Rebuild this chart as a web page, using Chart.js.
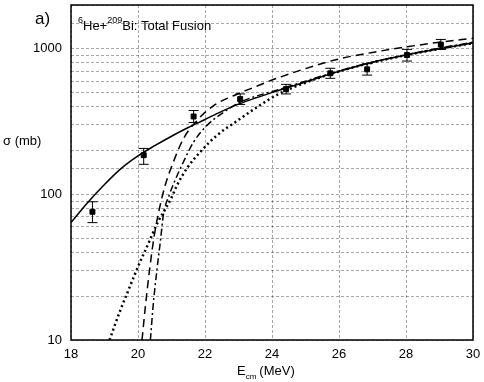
<!DOCTYPE html>
<html>
<head>
<meta charset="utf-8">
<script src="https://cdn.jsdelivr.net/npm/chart.js@4"></script>
<style>
html, body { margin: 0; padding: 0; background: #fff; }
</style>
</head>
<body>
<canvas id="myChart" width="484" height="382"></canvas>
<script>
// measured points (E_cm in MeV, sigma in mb)
const expE = [18.64, 20.17, 21.66, 23.05, 24.42, 25.74, 26.84, 28.03, 29.04];
const expS = [76, 186, 343, 452, 529, 679, 723, 906, 1069];
const expLo = [64, 161, 312, 415, 490, 627, 660, 824, 990];
const expHi = [89, 207, 377, 490, 570, 735, 790, 991, 1160];

// calculations
const solidE = [18, 18.5, 19, 19.5, 20, 20.5, 21, 21.5, 22, 22.5, 23, 23.5, 24, 25, 26, 27, 28, 29, 30];
const solidS = [64, 88, 117, 151, 184, 216, 251, 288, 327, 372, 417, 459, 501, 592, 700, 810, 905, 1000, 1096];

const dashE = [20.12, 20.22, 20.35, 20.49, 20.64, 20.81, 21.06, 21.36, 21.76, 22.26, 22.85, 23.45, 24.15, 24.94, 25.94, 27, 28, 29, 30];
const dashS = [10, 17, 31, 53, 80, 115, 168, 242, 322, 408, 476, 543, 628, 724, 846, 945, 1030, 1110, 1180];

const dashDotE = [20.37, 20.45, 20.57, 20.67, 20.76, 20.94, 21.06, 21.36, 21.66, 22.06, 22.56, 23.05, 24.25, 25, 26, 27, 28, 29, 30];
const dashDotS = [10, 17, 31, 48, 73, 100, 118, 168, 229, 298, 367, 430, 529, 600, 705, 810, 910, 1010, 1110];

const dotE = [19.15, 19.29, 19.49, 19.69, 19.89, 20.1, 20.31, 20.6, 20.84, 21.0, 21.16, 21.46, 21.86, 22.36, 22.96, 23.55, 24.2, 25, 26, 27, 28, 29, 30];
const dotS = [10, 12.3, 16.4, 21.3, 27.7, 36, 46, 65, 81, 95, 115, 151, 196, 255, 320, 397, 490, 585, 700, 805, 905, 1000, 1095];

const xTicks = [18, 20, 22, 24, 26, 28, 30];
const yLabels = [10, 100, 1000];

const pts = (xs, ys) => xs.map((x, i) => ({ x: x, y: ys[i] }));
const FONT = '"Liberation Sans", Arial, sans-serif';

const curve = (xs, ys, dash, width) => ({
    type: 'line',
    data: pts(xs, ys),
    borderColor: '#000',
    borderWidth: width,
    borderDash: dash,
    pointRadius: 0,
    fill: false,
    cubicInterpolationMode: 'monotone'
});

const extras = {
    id: 'extras',
    afterDatasetsDraw(chart) {
        const ctx = chart.ctx;
        const xs = chart.scales.x, ys = chart.scales.y;
        const a = chart.chartArea;
        ctx.save();
        // error bars
        ctx.strokeStyle = '#000';
        ctx.lineWidth = 1;
        expE.forEach((e, i) => {
            const px = xs.getPixelForValue(e);
            const y1 = ys.getPixelForValue(expLo[i]);
            const y2 = ys.getPixelForValue(expHi[i]);
            ctx.beginPath();
            ctx.moveTo(px, y1); ctx.lineTo(px, y2);
            ctx.moveTo(px - 5, y1); ctx.lineTo(px + 5, y1);
            ctx.moveTo(px - 5, y2); ctx.lineTo(px + 5, y2);
            ctx.stroke();
        });
        // frame
        ctx.lineWidth = 1.5;
        ctx.strokeRect(a.left, a.top, a.right - a.left, a.bottom - a.top);

        ctx.fillStyle = '#000';
        ctx.textBaseline = 'alphabetic';
        ctx.textAlign = 'left';
        // panel label
        ctx.font = '17px ' + FONT;
        ctx.fillText('a)', 35, 24);
        // title inside plot
        let x = 78;
        const sup = (t) => { ctx.font = '9px ' + FONT; ctx.fillText(t, x, 23); x += ctx.measureText(t).width; };
        const txt = (t) => { ctx.font = '13px ' + FONT; ctx.fillText(t, x, 30); x += ctx.measureText(t).width; };
        sup('6'); txt('He+'); sup('209'); txt('Bi: Total Fusion');
        // y title
        ctx.font = '13px ' + FONT;
        ctx.fillText('\u03c3 (mb)', 3, 145);
        // x title
        x = 237;
        ctx.font = '13px ' + FONT;
        ctx.fillText('E', x, 375);
        x += ctx.measureText('E').width;
        ctx.font = '8px ' + FONT;
        ctx.fillText('cm', x, 379);
        x += ctx.measureText('cm').width + 3;
        ctx.font = '13px ' + FONT;
        ctx.fillText('(MeV)', x, 375);
        ctx.restore();
    }
};

new Chart(document.getElementById('myChart').getContext('2d'), {
    type: 'scatter',
    data: {
        datasets: [
            {
                label: 'data',
                data: pts(expE, expS),
                backgroundColor: '#000',
                borderColor: '#000',
                pointStyle: 'rect',
                pointRadius: 3.5,
                showLine: false
            },
            curve(solidE, solidS, [], 1.5),
            curve(dashE, dashS, [8, 5], 1.5),
            curve(dashDotE, dashDotS, [7, 3, 2, 3], 1.5),
            curve(dotE, dotS, [2, 3], 2.5)
        ]
    },
    options: {
        responsive: false,
        animation: false,
        layout: { padding: { left: 0, right: 11, top: 3, bottom: 0 } },
        plugins: { legend: { display: false }, tooltip: { enabled: false } },
        scales: {
            x: {
                type: 'linear',
                min: 18,
                max: 30,
                afterFit: s => { s.height = 42; s.paddingLeft = 0; s.paddingRight = 0; },
                afterBuildTicks: s => { s.ticks = xTicks.map(v => ({ value: v })); },
                ticks: { font: { size: 13, family: FONT }, color: '#000', padding: 7 },
                grid: { color: 'rgba(0,0,0,0.35)', lineWidth: 1, drawTicks: false },
                border: { display: false, dash: [3, 2] }
            },
            y: {
                type: 'logarithmic',
                min: 10,
                max: 2000,
                afterFit: s => { s.width = 71; s.paddingTop = 0; s.paddingBottom = 0; },
                ticks: {
                    autoSkip: false,
                    font: { size: 13, family: FONT },
                    color: '#000',
                    padding: 9,
                    callback: v => yLabels.includes(v) ? String(v) : ''
                },
                grid: { color: 'rgba(0,0,0,0.35)', lineWidth: 1, drawTicks: false },
                border: { display: false, dash: [3, 2] }
            }
        }
    },
    plugins: [extras]
});
</script>
</body>
</html>
